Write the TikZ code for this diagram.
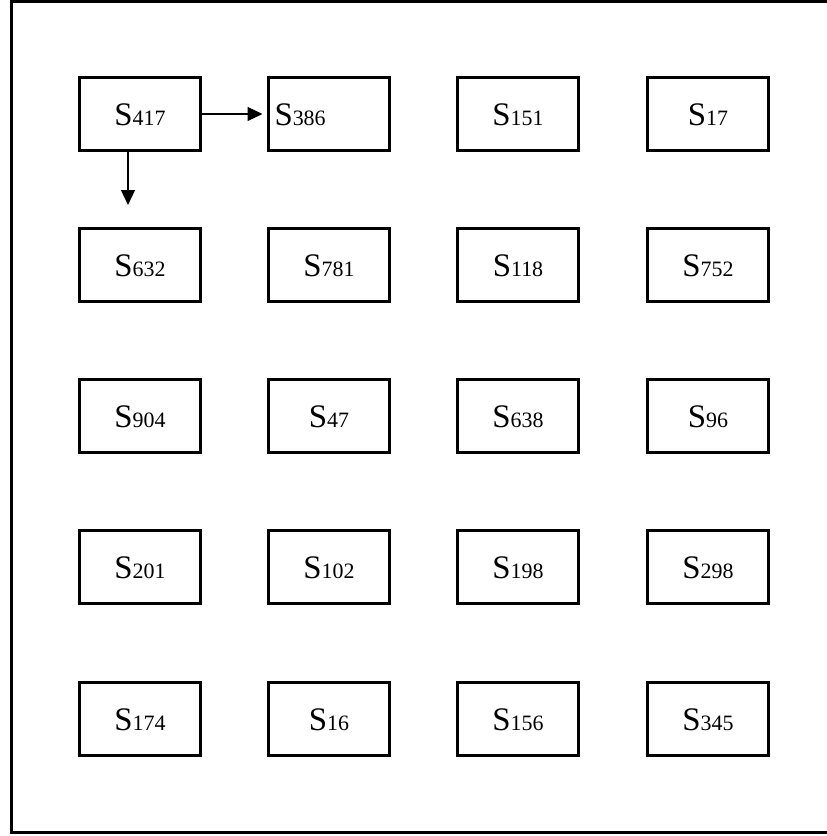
\documentclass[tikz,border=0pt]{standalone}
\usepackage{fontspec}
\setmainfont{Liberation Serif}
\usetikzlibrary{arrows.meta}

\newcommand{\sname}[1]{{\fontsize{33}{36}\selectfont S\fontsize{22}{24}\selectfont #1}}

\begin{document}
\begin{tikzpicture}[x=1bp, y=-1bp,
	cell/.style={draw, line width=3bp, minimum width=121bp, minimum height=73bp,
		inner sep=0pt, text height=23bp, text depth=0bp},
	conn/.style={-{Triangle[length=15bp, width=14bp]}, line width=1.2bp}]
	\useasboundingbox (0,0) rectangle (827,836);
	\draw[line width=2.7bp] (11.3,1.3) rectangle (829,832.5);
	% row 1
	\node[cell] (s417) at (140,114) {\sname{417}};
	\node[cell, align=left, text width=109bp, inner xsep=6bp] (s386) at (329,114) {\sname{386}};
	\node[cell] (s151) at (518,114) {\sname{151}};
	\node[cell] (s17) at (708,114) {\sname{17}};
	% row 2
	\node[cell] (s632) at (140,265) {\sname{632}};
	\node[cell] (s781) at (329,265) {\sname{781}};
	\node[cell] (s118) at (518,265) {\sname{118}};
	\node[cell] (s752) at (708,265) {\sname{752}};
	% row 3
	\node[cell] (s904) at (140,416) {\sname{904}};
	\node[cell] (s47) at (329,416) {\sname{47}};
	\node[cell] (s638) at (518,416) {\sname{638}};
	\node[cell] (s96) at (708,416) {\sname{96}};
	% row 4
	\node[cell] (s201) at (140,567) {\sname{201}};
	\node[cell] (s102) at (329,567) {\sname{102}};
	\node[cell] (s198) at (518,567) {\sname{198}};
	\node[cell] (s298) at (708,567) {\sname{298}};
	% row 5
	\node[cell] (s174) at (140,719) {\sname{174}};
	\node[cell] (s16) at (329,719) {\sname{16}};
	\node[cell] (s156) at (518,719) {\sname{156}};
	\node[cell] (s345) at (708,719) {\sname{345}};
	% arrows
	\draw[conn, shorten >=4.5bp] (s417.east) -- (s386.west);
	\draw[conn, shorten >=22bp] ([xshift=-12bp]s417.south) -- ([xshift=-12bp]s632.north);
\end{tikzpicture}
\end{document}
